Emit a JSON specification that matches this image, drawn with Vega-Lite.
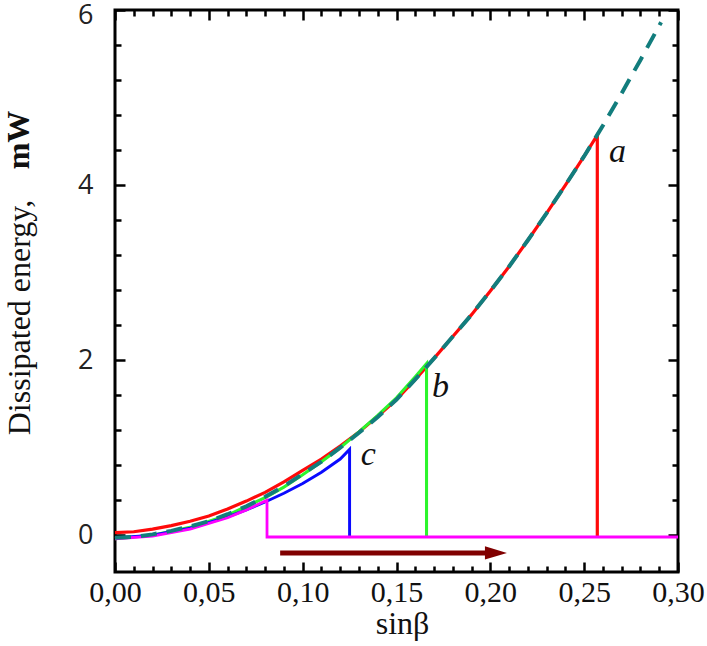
{
  "$schema": "https://vega.github.io/schema/vega-lite/v6.json",
  "width": 563,
  "height": 562,
  "autosize": "none",
  "padding": {"left": 115, "top": 10, "right": 29, "bottom": 74},
  "background": "white",
  "config": {
    "view": {"stroke": "#000", "strokeWidth": 3}
  },
  "datasets": {
    "curves": [
      {"s": "model", "i": 0, "x": 0.0, "y": -0.03},
      {"s": "model", "i": 1, "x": 0.01, "y": -0.02},
      {"s": "model", "i": 2, "x": 0.02, "y": 0.01},
      {"s": "model", "i": 3, "x": 0.03, "y": 0.05},
      {"s": "model", "i": 4, "x": 0.04, "y": 0.10},
      {"s": "model", "i": 5, "x": 0.05, "y": 0.16},
      {"s": "model", "i": 6, "x": 0.06, "y": 0.24},
      {"s": "model", "i": 7, "x": 0.07, "y": 0.33},
      {"s": "model", "i": 8, "x": 0.08, "y": 0.44},
      {"s": "model", "i": 9, "x": 0.09, "y": 0.56},
      {"s": "model", "i": 10, "x": 0.10, "y": 0.70},
      {"s": "model", "i": 11, "x": 0.11, "y": 0.84},
      {"s": "model", "i": 12, "x": 0.12, "y": 1.00},
      {"s": "model", "i": 13, "x": 0.13, "y": 1.17},
      {"s": "model", "i": 14, "x": 0.14, "y": 1.35},
      {"s": "model", "i": 15, "x": 0.15, "y": 1.55},
      {"s": "model", "i": 16, "x": 0.16, "y": 1.78},
      {"s": "model", "i": 17, "x": 0.17, "y": 2.02},
      {"s": "model", "i": 18, "x": 0.18, "y": 2.27},
      {"s": "model", "i": 19, "x": 0.19, "y": 2.52},
      {"s": "model", "i": 20, "x": 0.20, "y": 2.79},
      {"s": "model", "i": 21, "x": 0.21, "y": 3.07},
      {"s": "model", "i": 22, "x": 0.22, "y": 3.37},
      {"s": "model", "i": 23, "x": 0.23, "y": 3.68},
      {"s": "model", "i": 24, "x": 0.24, "y": 4.00},
      {"s": "model", "i": 25, "x": 0.25, "y": 4.33},
      {"s": "model", "i": 26, "x": 0.26, "y": 4.68},
      {"s": "model", "i": 27, "x": 0.27, "y": 5.05},
      {"s": "model", "i": 28, "x": 0.28, "y": 5.43},
      {"s": "model", "i": 29, "x": 0.291, "y": 5.86},

      {"s": "a", "i": 0, "x": 0.0, "y": 0.03},
      {"s": "a", "i": 1, "x": 0.01, "y": 0.04},
      {"s": "a", "i": 2, "x": 0.02, "y": 0.07},
      {"s": "a", "i": 3, "x": 0.03, "y": 0.11},
      {"s": "a", "i": 4, "x": 0.04, "y": 0.16},
      {"s": "a", "i": 5, "x": 0.05, "y": 0.22},
      {"s": "a", "i": 6, "x": 0.06, "y": 0.30},
      {"s": "a", "i": 7, "x": 0.07, "y": 0.39},
      {"s": "a", "i": 8, "x": 0.08, "y": 0.49},
      {"s": "a", "i": 9, "x": 0.09, "y": 0.61},
      {"s": "a", "i": 10, "x": 0.10, "y": 0.74},
      {"s": "a", "i": 11, "x": 0.11, "y": 0.87},
      {"s": "a", "i": 12, "x": 0.12, "y": 1.02},
      {"s": "a", "i": 13, "x": 0.13, "y": 1.18},
      {"s": "a", "i": 14, "x": 0.14, "y": 1.36},
      {"s": "a", "i": 15, "x": 0.15, "y": 1.55},
      {"s": "a", "i": 16, "x": 0.16, "y": 1.78},
      {"s": "a", "i": 17, "x": 0.17, "y": 2.02},
      {"s": "a", "i": 18, "x": 0.18, "y": 2.27},
      {"s": "a", "i": 19, "x": 0.19, "y": 2.52},
      {"s": "a", "i": 20, "x": 0.20, "y": 2.79},
      {"s": "a", "i": 21, "x": 0.21, "y": 3.07},
      {"s": "a", "i": 22, "x": 0.22, "y": 3.37},
      {"s": "a", "i": 23, "x": 0.23, "y": 3.68},
      {"s": "a", "i": 24, "x": 0.24, "y": 4.00},
      {"s": "a", "i": 25, "x": 0.25, "y": 4.33},
      {"s": "a", "i": 26, "x": 0.257, "y": 4.57},
      {"s": "a", "i": 27, "x": 0.257, "y": -0.02},

      {"s": "b", "i": 0, "x": 0.0, "y": -0.04},
      {"s": "b", "i": 1, "x": 0.02, "y": 0.0},
      {"s": "b", "i": 2, "x": 0.04, "y": 0.09},
      {"s": "b", "i": 3, "x": 0.06, "y": 0.23},
      {"s": "b", "i": 4, "x": 0.08, "y": 0.43},
      {"s": "b", "i": 5, "x": 0.09, "y": 0.55},
      {"s": "b", "i": 6, "x": 0.10, "y": 0.69},
      {"s": "b", "i": 7, "x": 0.11, "y": 0.84},
      {"s": "b", "i": 8, "x": 0.12, "y": 1.00},
      {"s": "b", "i": 9, "x": 0.13, "y": 1.18},
      {"s": "b", "i": 10, "x": 0.14, "y": 1.37},
      {"s": "b", "i": 11, "x": 0.15, "y": 1.57},
      {"s": "b", "i": 12, "x": 0.16, "y": 1.81},
      {"s": "b", "i": 13, "x": 0.166, "y": 1.96},
      {"s": "b", "i": 14, "x": 0.166, "y": -0.02},

      {"s": "c", "i": 0, "x": 0.0, "y": -0.03},
      {"s": "c", "i": 1, "x": 0.02, "y": 0.0},
      {"s": "c", "i": 2, "x": 0.04, "y": 0.08},
      {"s": "c", "i": 3, "x": 0.06, "y": 0.21},
      {"s": "c", "i": 4, "x": 0.07, "y": 0.29},
      {"s": "c", "i": 5, "x": 0.08, "y": 0.38},
      {"s": "c", "i": 6, "x": 0.09, "y": 0.48},
      {"s": "c", "i": 7, "x": 0.10, "y": 0.59},
      {"s": "c", "i": 8, "x": 0.11, "y": 0.72},
      {"s": "c", "i": 9, "x": 0.12, "y": 0.87},
      {"s": "c", "i": 10, "x": 0.125, "y": 0.98},
      {"s": "c", "i": 11, "x": 0.125, "y": -0.02},

      {"s": "d", "i": 0, "x": 0.0, "y": -0.04},
      {"s": "d", "i": 1, "x": 0.02, "y": -0.01},
      {"s": "d", "i": 2, "x": 0.04, "y": 0.07},
      {"s": "d", "i": 3, "x": 0.06, "y": 0.20},
      {"s": "d", "i": 4, "x": 0.07, "y": 0.29},
      {"s": "d", "i": 5, "x": 0.081, "y": 0.40},
      {"s": "d", "i": 6, "x": 0.081, "y": -0.02},
      {"s": "d", "i": 7, "x": 0.30, "y": -0.02}
    ],
    "arrow": [{"x": 0.088, "x2": 0.198, "y": -0.202}],
    "head": [{"x": 0.203, "y": -0.202}],
    "labels": [
      {"t": "a", "x": 0.2677, "y": 4.26},
      {"t": "b", "x": 0.1734, "y": 1.58},
      {"t": "c", "x": 0.135, "y": 0.80}
    ],
    "unit": [{"t": "mW", "x": -0.0458, "y": 4.515}]
  },
  "encoding": {
    "x": {
      "field": "x", "type": "quantitative",
      "scale": {"domain": [0, 0.3], "nice": false, "zero": false},
      "axis": {
        "orient": "bottom", "domain": false, "grid": false,
        "values": [0, 0.01, 0.02, 0.03, 0.04, 0.05, 0.06, 0.07, 0.08, 0.09, 0.1, 0.11, 0.12, 0.13, 0.14, 0.15, 0.16, 0.17, 0.18, 0.19, 0.2, 0.21, 0.22, 0.23, 0.24, 0.25, 0.26, 0.27, 0.28, 0.29, 0.3],
        "labelExpr": "round(datum.value*100) % 5 == 0 ? replace(format(datum.value, '.2f'), '.', ',') : ''",
        "tickColor": "black", "tickWidth": 2.5,
        "tickSize": -562,
        "tickDash": {"condition": {"test": "round(datum.value*100) % 5 == 0", "value": [10, 542]}, "value": [6, 550]},
        "labelFont": "Liberation Serif", "labelFontSize": 30, "labelColor": "#111",
        "labelPadding": 567, "labelFlush": false, "labelOverlap": false,
        "title": "sinβ", "titleFont": "Liberation Serif", "titleFontSize": 32, "titleFontWeight": "normal",
        "titleColor": "#111", "titleBaseline": "alphabetic", "titleX": 287, "titleY": 61
      }
    },
    "y": {
      "field": "y", "type": "quantitative",
      "scale": {"domain": [-0.42, 6], "nice": false, "zero": false},
      "axis": {
        "orient": "left", "domain": false, "grid": false,
        "values": [0, 0.4, 0.8, 1.2, 1.6, 2, 2.4, 2.8, 3.2, 3.6, 4, 4.4, 4.8, 5.2, 5.6, 6],
        "labelExpr": "round(datum.value*10) % 20 == 0 ? format(datum.value, 'd') : ''",
        "tickColor": "black", "tickWidth": 2.5,
        "tickSize": -563,
        "tickDash": {"condition": {"test": "round(datum.value*10) % 20 == 0", "value": [10, 543]}, "value": [6, 551]},
        "labelFont": "Open Sans", "labelFontSize": 27, "labelColor": "#222",
        "labelPadding": 585, "labelFlush": false, "labelOverlap": false,
        "labelOffset": {"condition": {"test": "datum.value == 6", "value": 5}, "value": 0},
        "title": "Dissipated energy,", "titleFont": "Liberation Serif", "titleFontSize": 32,
        "titleFontWeight": "normal", "titleColor": "#111",
        "titleBaseline": "alphabetic", "titleAlign": "center", "titleAngle": -90,
        "titleX": -86, "titleY": 307
      }
    }
  },
  "layer": [
    {
      "data": {"name": "curves"},
      "transform": [{"filter": "datum.s !== 'model'"}],
      "mark": {"type": "line", "strokeCap": "butt", "strokeJoin": "miter"},
      "encoding": {
        "color": {
          "field": "s", "type": "nominal",
          "scale": {"domain": ["a", "b", "c", "d"], "range": ["#ff0a0a", "#2cf52c", "#0a0aff", "#ff00ff"]},
          "legend": null
        },
        "size": {
          "field": "s", "type": "nominal",
          "scale": {"domain": ["a", "b", "c", "d"], "range": [3.2, 2.8, 3.5, 3.5]},
          "legend": null
        },
        "order": {"field": "i", "type": "quantitative"}
      }
    },
    {
      "data": {"name": "curves"},
      "transform": [{"filter": "datum.s === 'model'"}],
      "mark": {"type": "line", "color": "#127d7d", "strokeWidth": 4, "strokeDash": [16, 10], "strokeCap": "butt"},
      "encoding": {
        "order": {"field": "i", "type": "quantitative"}
      }
    },
    {
      "data": {"name": "arrow"},
      "mark": {"type": "rule", "color": "#800000", "strokeWidth": 5},
      "encoding": {
        "x2": {"field": "x2"}
      }
    },
    {
      "data": {"name": "head"},
      "mark": {"type": "point", "shape": "M-1,-0.6L1,0L-1,0.6Z", "filled": true, "color": "#800000", "opacity": 1, "size": 484},
      "encoding": {}
    },
    {
      "data": {"name": "labels"},
      "mark": {"type": "text", "font": "Liberation Serif", "fontStyle": "italic", "fontSize": 34, "align": "center", "baseline": "alphabetic", "color": "#111"},
      "encoding": {
        "text": {"field": "t"}
      }
    },
    {
      "data": {"name": "unit"},
      "mark": {"type": "text", "font": "Liberation Serif", "fontWeight": "bold", "fontSize": 32, "angle": 270, "align": "center", "baseline": "alphabetic", "color": "#111"},
      "encoding": {
        "text": {"field": "t"}
      }
    }
  ]
}
